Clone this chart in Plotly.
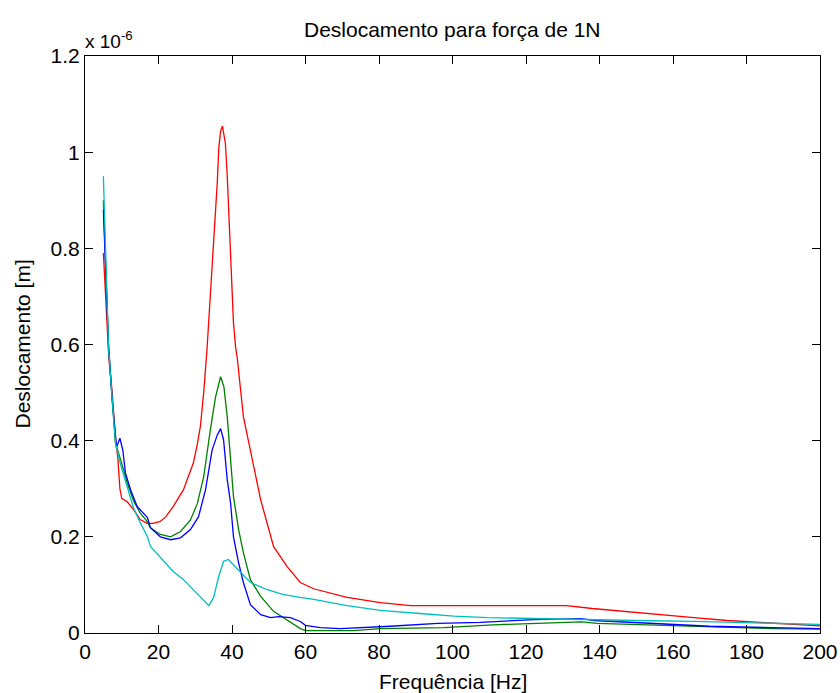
import plotly.graph_objects as go

# Frequency [Hz] and displacement [x 1e-6 m]
f_red = [5, 5.6, 6, 6.5, 7.4, 8.3, 8.9, 9.5, 10, 11.5, 13.3, 15, 16.9, 18.5, 20.5, 22, 24, 26.8,
         29.5, 30.5, 31.4, 32.3, 33.2, 33.7, 34.2, 34.6, 35, 35.5, 36, 36.4, 36.9, 37.4, 38.2, 38.7,
         39.1, 39.6, 40, 40.4, 41, 41.4, 43.1, 45, 47.8, 51.3, 55, 58.6, 62.2, 71.3, 80.4, 88.6,
         100, 131, 138, 147.5, 156.6, 165.7, 174.7, 184, 193, 200]
y_red = [0.79, 0.70, 0.62, 0.57, 0.50, 0.40, 0.367, 0.30, 0.28, 0.273, 0.256, 0.236, 0.228, 0.228,
         0.232, 0.242, 0.263, 0.298, 0.354, 0.39, 0.43, 0.50, 0.59, 0.65, 0.713, 0.776, 0.823, 0.879,
         0.938, 1.008, 1.044, 1.054, 1.018, 0.952, 0.875, 0.79, 0.713, 0.645, 0.593, 0.574, 0.45,
         0.381, 0.277, 0.18, 0.138, 0.105, 0.092, 0.074, 0.063, 0.057, 0.057, 0.057, 0.051, 0.045,
         0.038, 0.032, 0.026, 0.022, 0.018, 0.015]

f_green = [5, 5.6, 6.4, 7.4, 8.3, 9.7, 11.6, 13.2, 15, 16.9, 17.8, 20.5, 23.3, 26, 28.7, 30.6, 32.3,
           34.1, 35.5, 36.9, 37.8, 38.7, 39.6, 40.4, 41.8, 43.1, 45, 47.8, 51.3, 55.9, 58.6, 60, 73,
           80.4, 97.6, 111, 127.5, 135, 139.4, 156.6, 170, 187, 200]
y_green = [0.90, 0.775, 0.595, 0.485, 0.395, 0.36, 0.31, 0.275, 0.25, 0.232, 0.219, 0.205, 0.20,
           0.211, 0.235, 0.27, 0.325, 0.422, 0.49, 0.533, 0.512, 0.45, 0.36, 0.284, 0.215, 0.167,
           0.111, 0.076, 0.045, 0.022, 0.009, 0.005, 0.005, 0.009, 0.011, 0.017, 0.022, 0.023, 0.02,
           0.016, 0.012, 0.009, 0.008]

f_blue = [5, 5.6, 6.4, 7.4, 8.6, 9.5, 10.3, 11, 12.4, 14.2, 17, 17.8, 20.5, 23.3, 26, 28.7, 30.9,
          32.8, 34.6, 36, 36.9, 37.7, 38.7, 39.6, 40.4, 41.8, 43.1, 45, 47.8, 50.5, 52.7, 55.9, 58.6,
          60, 64, 69.5, 75.8, 83, 96, 107.6, 122, 135, 138.5, 150, 158.5, 170, 187, 200]
y_blue = [0.88, 0.77, 0.60, 0.485, 0.387, 0.405, 0.38, 0.333, 0.298, 0.263, 0.24, 0.219, 0.20,
          0.194, 0.198, 0.215, 0.242, 0.298, 0.381, 0.412, 0.425, 0.402, 0.319, 0.271, 0.20, 0.146,
          0.105, 0.059, 0.038, 0.032, 0.034, 0.032, 0.024, 0.016, 0.011, 0.009, 0.011, 0.014, 0.02,
          0.022, 0.028, 0.03, 0.026, 0.022, 0.018, 0.014, 0.011, 0.009]

f_cyan = [5, 5.6, 6.4, 7.4, 8.3, 9.7, 11.6, 13.2, 15, 17, 17.8, 20.5, 24, 26.8, 29.5, 32.3, 33.7, 35,
          36.4, 37.7, 39, 40.4, 42.3, 45, 49.6, 54, 58.6, 62.2, 71.3, 80.4, 92, 100.4, 109.5, 121,
          135, 150, 165.7, 180, 195, 200]
y_cyan = [0.95, 0.775, 0.595, 0.485, 0.395, 0.35, 0.30, 0.26, 0.23, 0.20, 0.18, 0.158, 0.128, 0.111,
          0.09, 0.069, 0.057, 0.074, 0.118, 0.149, 0.153, 0.142, 0.126, 0.105, 0.09, 0.08, 0.074,
          0.07, 0.057, 0.047, 0.04, 0.035, 0.032, 0.03, 0.029, 0.026, 0.024, 0.022, 0.02, 0.018]

x_ticks = [0, 20, 40, 60, 80, 100, 120, 140, 160, 180, 200]
y_ticks = [0, 0.2, 0.4, 0.6, 0.8, 1, 1.2]
y_tick_text = ["0", "0.2", "0.4", "0.6", "0.8", "1", "1.2"]

FONT = "Liberation Sans, Arial, sans-serif"
W, H = 840, 693
L, R, T, B = 85, 20, 56, 60

fig = go.Figure()
for fx, fy, col in [(f_red, y_red, "rgb(255,0,0)"),
                    (f_green, y_green, "rgb(0,128,0)"),
                    (f_blue, y_blue, "rgb(0,0,255)"),
                    (f_cyan, y_cyan, "rgb(0,191,191)")]:
    fig.add_trace(go.Scatter(x=fx, y=fy, mode="lines",
                             line=dict(color=col, width=1.3), showlegend=False))

axis_common = dict(showgrid=False, zeroline=False, showline=True, linecolor="black",
                   linewidth=1, mirror="ticks", ticks="inside", ticklen=8, tickcolor="black",
                   automargin=False,
                   tickfont=dict(family=FONT, size=21, color="black"))

pw = W - L - R
ph = H - T - B
fig.update_layout(
    width=W, height=H,
    margin=dict(l=L, r=R, t=T, b=B),
    paper_bgcolor="white", plot_bgcolor="white",
    xaxis=dict(range=[0, 200], tickvals=x_ticks, **axis_common),
    yaxis=dict(range=[0, 1.2], tickvals=y_ticks, ticktext=y_tick_text, **axis_common),
    annotations=[
        dict(text="Deslocamento para força de 1N", xref="paper", yref="paper",
             x=0.5, y=1 + (T - 30) / ph, xanchor="center", yanchor="middle", showarrow=False,
             font=dict(family=FONT, size=21, color="black")),
        dict(text="Frequência [Hz]", xref="paper", yref="paper",
             x=0.5, y=-(681 - (H - B)) / ph, xanchor="center", yanchor="middle", showarrow=False,
             font=dict(family=FONT, size=21, color="black")),
        dict(text="Deslocamento [m]", xref="paper", yref="paper", textangle=-90,
             x=-(L - 22) / pw, y=0.5, xanchor="center", yanchor="middle", showarrow=False,
             font=dict(family=FONT, size=21, color="black")),
        dict(text="x 10<sup>-6</sup>", xref="paper", yref="paper", x=0, y=1,
             xanchor="left", yanchor="bottom", showarrow=False, yshift=2, xshift=-2,
             font=dict(family=FONT, size=19, color="black")),
    ],
)

fig.write_html("out.html", config={"displayModeBar": False},
               post_script="document.body.style.margin='0';")
